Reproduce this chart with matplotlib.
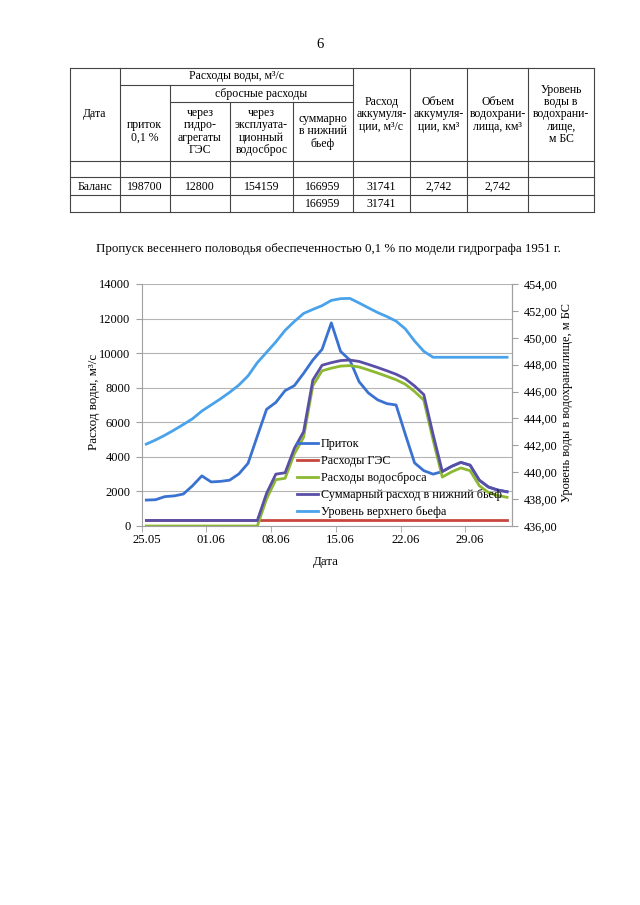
import matplotlib
matplotlib.use('Agg')
import matplotlib.pyplot as plt
import numpy as np
from matplotlib.ticker import FuncFormatter

plt.rcParams['font.family'] = ['Liberation Serif', 'DejaVu Serif']

# ---------------- data ----------------
tick_labels = ["25.05", "01.06", "08.06", "15.06", "22.06", "29.06"]
n_days = 40

inflow = [1500, 1520, 1700, 1740, 1850, 2330, 2900, 2550, 2580, 2650,
          3010, 3630, 5200, 6750, 7150, 7830, 8120, 8830, 9600, 10220,
          11750, 10100, 9600, 8350, 7700, 7300, 7080, 7000, 5300, 3650,
          3200, 3000, 3150, 3450, 3680, 3520, 2650, 2250, 2080, 1980]

hpp = [320, 320, 320, 320, 320, 320, 320, 320, 320, 320,
       320, 320, 320, 320, 320, 320, 320, 320, 320, 320,
       320, 320, 320, 320, 320, 320, 320, 320, 320, 320,
       320, 320, 320, 320, 320, 320, 320, 320, 320, 320]

spillway = [0, 0, 0, 0, 0, 0, 0, 0, 0, 0,
            0, 0, 0, 1570, 2680, 2760, 4170, 5130, 8120, 8980,
            9130, 9250, 9280, 9200, 9030, 8850, 8660, 8460, 8200, 7780,
            7280, 4980, 2830, 3130, 3360, 3200, 2330, 1930, 1760, 1660]

total = [320, 320, 320, 320, 320, 320, 320, 320, 320, 320,
         320, 320, 320, 1890, 3000, 3080, 4490, 5450, 8440, 9300,
         9450, 9570, 9600, 9520, 9350, 9170, 8980, 8780, 8520, 8100,
         7600, 5300, 3150, 3450, 3680, 3520, 2650, 2250, 2080, 1980]

level = [442.09, 442.40, 442.75, 443.14, 443.55, 443.98, 444.55, 445.00, 445.45, 445.94,
         446.48, 447.17, 448.15, 448.92, 449.69, 450.55, 451.21, 451.81, 452.11, 452.39,
         452.78, 452.91, 452.93, 452.59, 452.23, 451.88, 451.58, 451.24, 450.66, 449.76,
         448.99, 448.55, 448.55, 448.55, 448.55, 448.55, 448.55, 448.55, 448.55, 448.55]

series_names = ["Приток", "Расходы ГЭС", "Расходы водосброса",
                "Суммарный расход в нижний бьеф", "Уровень верхнего бьефа"]

# table content
tbl_top_header = "Расходы воды, м³/с"
tbl_sub_header = "сбросные расходы"
tbl_headers = ["Дата", "приток\n0,1 %", "через\nгидро-\nагрегаты\nГЭС",
               "через\nэксплуата-\nционный\nводосброс", "суммарно\nв нижний\nбьеф",
               "Расход\nаккумуля-\nции, м³/с", "Объем\nаккумуля-\nции, км³",
               "Объем\nводохрани-\nлища, км³", "Уровень\nводы в\nводохрани-\nлище,\nм БС"]
tbl_row_balance = ["Баланс", "198700", "12800", "154159", "166959", "31741", "2,742", "2,742", ""]
tbl_row_last = ["", "", "", "", "166959", "31741", "", "", ""]

title = "Пропуск весеннего половодья обеспеченностью 0,1 % по модели гидрографа 1951 г."
page_no = "6"

# ---------------- figure ----------------
W, H = 640, 905
fig = plt.figure(figsize=(W / 100, H / 100), dpi=100)
fig.patch.set_facecolor('white')

ov = fig.add_axes([0, 0, 1, 1])
ov.set_xlim(0, W)
ov.set_ylim(H, 0)
ov.axis('off')

ov.text(320, 44, page_no, ha='center', va='center', fontsize=10.5)

# table geometry
cx = [70, 119.6, 170, 230, 293, 352.7, 410, 467, 528, 594]
ry = [68, 85, 102, 161, 177, 195, 212]
lc = '#444444'
lw = 0.8
ov.plot([cx[0], cx[-1]], [ry[0], ry[0]], color=lc, lw=lw)
ov.plot([cx[0], cx[-1]], [ry[-1], ry[-1]], color=lc, lw=lw)
ov.plot([cx[1], cx[5]], [ry[1], ry[1]], color=lc, lw=lw)
ov.plot([cx[2], cx[5]], [ry[2], ry[2]], color=lc, lw=lw)
for y in ry[3:6]:
    ov.plot([cx[0], cx[-1]], [y, y], color=lc, lw=lw)
for i, x in enumerate(cx):
    if i == 2:
        y0 = ry[1]
    elif i in (3, 4):
        y0 = ry[2]
    else:
        y0 = ry[0]
    ov.plot([x, x], [y0, ry[-1]], color=lc, lw=lw)

fs_t = 8.5
ov.text((cx[1] + cx[5]) / 2, (ry[0] + ry[1]) / 2, tbl_top_header, ha='center', va='center', fontsize=fs_t)
ov.text((cx[2] + cx[5]) / 2, (ry[1] + ry[2]) / 2, tbl_sub_header, ha='center', va='center', fontsize=fs_t)
for j, txt in enumerate(tbl_headers):
    xc = (cx[j] + cx[j + 1]) / 2
    if 1 <= j <= 4:
        yc = (ry[2] + ry[3]) / 2
    else:
        yc = (ry[0] + ry[3]) / 2
    ov.text(xc, yc, txt, ha='center', va='center', fontsize=fs_t, linespacing=1.05)
for j, txt in enumerate(tbl_row_balance):
    ov.text((cx[j] + cx[j + 1]) / 2, (ry[4] + ry[5]) / 2 + 0.5, txt, ha='center', va='center', fontsize=fs_t)
for j, txt in enumerate(tbl_row_last):
    ov.text((cx[j] + cx[j + 1]) / 2, (ry[5] + ry[6]) / 2 + 0.5, txt, ha='center', va='center', fontsize=fs_t)

ov.text(328, 249, title, ha='center', va='center', fontsize=9.3)

# ---------------- chart ----------------
L, R, T, B = 141.7, 511.7, 284, 526
ax = fig.add_axes([L / W, 1 - B / H, (R - L) / W, (B - T) / H])
ax.set_facecolor('none')
x = np.arange(n_days) + 0.5

c_in = '#3a72d2'
c_hpp = '#c8463e'
c_sp = '#8cb832'
c_tot = '#5a4fa6'
c_lvl = '#4aa3ea'
lwd = 2.0

l1, = ax.plot(x, inflow, color=c_in, lw=lwd, solid_joinstyle='round')
l2, = ax.plot(x, hpp, color=c_hpp, lw=lwd)
l3, = ax.plot(x, spillway, color=c_sp, lw=lwd, solid_joinstyle='round')
l4, = ax.plot(x, total, color=c_tot, lw=lwd, solid_joinstyle='round')

ax.set_xlim(0, n_days)
ax.set_ylim(0, 14000)
ax.set_yticks(np.arange(0, 14001, 2000))
ax.grid(axis='y', color='#b4b4b4', lw=0.8)
ax.set_axisbelow(True)
ax.set_xticks(np.arange(0, n_days, 7) + 0.5)
ax.set_xticklabels(tick_labels)
ax.set_xticks(np.arange(0, n_days + 1, 7), minor=True)
ax.tick_params(axis='x', which='major', length=0, labelsize=9.2, pad=6)
ax.tick_params(axis='x', which='minor', length=4, color='#a0a0a0', direction='out')
ax.tick_params(axis='y', length=4, color='#a0a0a0', labelsize=9, pad=4)
for s in ('left', 'right', 'bottom'):
    ax.spines[s].set_color('#a0a0a0')
    ax.spines[s].set_linewidth(0.8)
ax.spines['top'].set_visible(False)

ax2 = ax.twinx()
l5, = ax2.plot(x, level, color=c_lvl, lw=lwd, solid_joinstyle='round')
ax2.set_ylim(436, 454)
ax2.set_yticks(np.arange(436, 454.1, 2))
ax2.yaxis.set_major_formatter(FuncFormatter(lambda v, p: f"{v:.2f}".replace('.', ',')))
ax2.tick_params(axis='y', length=4, color='#a0a0a0', labelsize=8.8, pad=5)
for s in ('left', 'right', 'bottom', 'top'):
    ax2.spines[s].set_visible(False)
ax2.spines['right'].set_visible(True)
ax2.spines['right'].set_color('#a0a0a0')
ax2.spines['right'].set_linewidth(0.8)

ax.set_ylabel('Расход воды, м³/с', fontsize=9.4)
ax.yaxis.set_label_coords((100 - L) / (R - L), (B - 402) / (B - T))
ax2.set_ylabel('Уровень воды в водохранилище, м БС', fontsize=8.8, rotation=90)
ax2.yaxis.set_label_coords((561 - L) / (R - L), (B - 402) / (B - T))
ax.set_xlabel('Дата', fontsize=9.4)
ax.xaxis.set_label_coords((326 - L) / (R - L), (B - 556) / (B - T))

leg = ax2.legend([l1, l2, l3, l4, l5], series_names, loc='upper left',
                 bbox_to_anchor=((297 - L) / (R - L), (B - 438) / (B - T)),
                 frameon=False, fontsize=8.7, handlelength=1.75, handletextpad=0.2,
                 labelspacing=0.42, borderpad=0, borderaxespad=0)

fig.savefig('out.png', dpi=100, facecolor='white')
